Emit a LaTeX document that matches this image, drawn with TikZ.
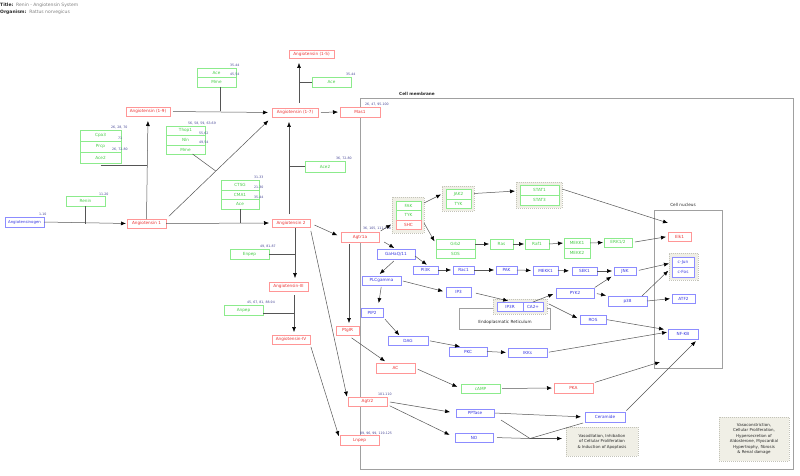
\documentclass[tikz,border=0pt]{standalone}
\usepackage{fontspec}
\setmainfont{DejaVu Sans}
\usetikzlibrary{arrows.meta,calc}
\definecolor{rbd}{RGB}{255,150,150}
\definecolor{rtx}{RGB}{235,50,50}
\definecolor{gbd}{RGB}{140,235,140}
\definecolor{gtx}{RGB}{70,205,70}
\definecolor{bbd}{RGB}{140,140,255}
\definecolor{btx}{RGB}{55,55,225}
\definecolor{lbl}{RGB}{70,70,150}
\definecolor{edgec}{RGB}{85,85,85}
\definecolor{grpf}{RGB}{240,239,230}
\definecolor{grpd}{RGB}{195,195,185}
\definecolor{cellc}{RGB}{160,160,160}
\definecolor{txd}{RGB}{40,40,40}
\newcommand\bx[7]{\node[#1, minimum width={(#5-#3)*1pt}, minimum height={(#6-#4)*1pt}] (#2) at ({(#3+#5)/2},{(#4+#6)/2}) {#7};}
\tikzset{
 box/.style={rectangle, inner sep=0pt, outer sep=0pt, fill=white, line width=0.6pt, font=\fontsize{4.2}{5}\selectfont},
 rn/.style={box, draw=rbd, text=rtx},
 gn/.style={box, draw=gbd, text=gtx},
 bn/.style={box, draw=bbd, text=btx},
 grp/.style={rectangle, inner sep=0pt, outer sep=0pt, fill=grpf, draw=grpd, dash pattern=on 1pt off 1pt, line width=0.6pt},
 cellbox/.style={rectangle, inner sep=0pt, outer sep=0pt, draw=cellc, line width=0.6pt},
 note/.style={rectangle, inner sep=0pt, outer sep=0pt, fill=grpf, draw=grpd, dash pattern=on 1pt off 1pt, line width=0.6pt, align=center, text=txd, font=\fontsize{4}{5.5}\selectfont},
 num/.style={font=\fontsize{3.2}{4}\selectfont, text=lbl, inner sep=0pt, anchor=west},
 arr/.style={draw=edgec, line width=0.5pt, -{Latex[length=5pt,width=4pt,color=black]}},
 ln/.style={draw=edgec, line width=0.5pt},
}
\begin{document}
\begin{tikzpicture}[x=1pt,y=-1pt]
\useasboundingbox (0,0) rectangle (800,476);
\fill[white] (0,0) rectangle (800,476);
% title
\node[anchor=west, inner sep=0pt, font=\fontsize{4.5}{5}\selectfont, text=txd] (title) at (0,5) {\textbf{Title:}\ \ {\color{gray}Renin - Angiotensin System}};
\node[anchor=west, inner sep=0pt, font=\fontsize{4.5}{5}\selectfont, text=txd] (organism) at (0,12.3) {\textbf{Organism:}\ \ {\color{gray}Rattus norvegicus}};
% compartments
\bx{cellbox}{membrane}{360}{98}{793}{469}{}
\node[font=\fontsize{4.2}{5}\selectfont\bfseries, text=txd, inner sep=0pt] (membranelbl) at (417,94) {Cell membrane};
\bx{cellbox}{nucleus}{654}{210}{722}{368}{}
\node[font=\fontsize{4.2}{5}\selectfont, text=txd, inner sep=0pt] (nucleuslbl) at (683,205) {Cell nucleus};
\bx{cellbox, fill=white}{er}{459}{308}{550}{329}{}
\node[font=\fontsize{4.2}{5}\selectfont, text=txd, inner sep=0pt] (erlbl) at (505,322) {Endoplasmatic Reticulum};
% groups
\bx{grp}{gFAK}{392}{197}{424}{233}{}
\bx{grp}{gJAK}{442}{186}{474}{211}{}
\bx{grp}{gSTAT}{516}{182}{562}{208}{}
\bx{grp}{gER}{493}{299}{547}{314}{}
\bx{grp}{gJun}{669}{253}{698}{280}{}
% notes
\bx{note}{vaso}{566}{427}{638}{456}{Vasodilation, Inhibation\\of Cellular Proliferation\\\& Induction of Apoptosis}
\bx{note}{vasoc}{719}{417}{789}{461}{Vasoconstriction,\\Cellular Proliferation,\\Hypersecretion of\\Aldosterone, Myocardial\\Hypertrophy, fibrosis\\\& Renal damage}
% red nodes
\bx{rn}{ang1}{127}{219}{166}{228}{Angiotensin 1}
\bx{rn}{ang19}{126}{107}{170}{116}{Angiotensin (1-9)}
\bx{rn}{ang15}{289}{50}{334}{58}{Angiotensin (1-5)}
\bx{rn}{ang17}{272}{108}{318}{117}{Angiotensin (1-7)}
\bx{rn}{mas1}{340}{107}{380}{117}{Mas1}
\bx{rn}{ang2}{272}{219}{310}{227}{Angiotensin 2}
\bx{rn}{agtr1a}{341}{232}{379}{242}{Agtr1a}
\bx{rn}{ang3}{269}{282}{308}{291}{Angiotensin-III}
\bx{rn}{ang4}{272}{335}{310}{344}{Angiotensin-IV}
\bx{rn}{ptgir}{336}{326}{359}{335}{PtgIR}
\bx{rn}{elk1}{668}{232}{691}{241}{Elk1}
\bx{rn}{ac}{376}{363}{415}{373}{AC}
\bx{rn}{agtr2}{348}{397}{387}{406}{Agtr2}
\bx{rn}{lnpep}{340}{435}{379}{445}{Lnpep}
\bx{rn}{pka}{554}{383}{593}{393}{PKA}
% green nodes
\bx{gn}{renin}{66}{196}{105}{206}{Renin}
\bx{gn}{cpa3}{80}{130}{121}{141}{Cpa3}
\bx{gn}{prcp}{80}{141}{121}{152}{Prcp}
\bx{gn}{ace2a}{80}{152}{121}{163}{Ace2}
\bx{gn}{thop1}{166}{126}{205}{135.5}{Thop1}
\bx{gn}{nln}{166}{135.5}{205}{145}{Nln}
\bx{gn}{mme1}{166}{145}{205}{154}{Mme}
\bx{gn}{aceA}{197}{68}{236}{77.5}{Ace}
\bx{gn}{mme2}{197}{77.5}{236}{87}{Mme}
\bx{gn}{aceB}{312}{77}{351}{87}{Ace}
\bx{gn}{ace2b}{305}{161}{345}{172}{Ace2}
\bx{gn}{ctsg}{221}{180}{259}{190}{CTSG}
\bx{gn}{cma1}{221}{190}{259}{199.5}{CMA1}
\bx{gn}{aceC}{221}{199.5}{259}{209}{Ace}
\bx{gn}{enpep}{230}{249}{269}{259}{Enpep}
\bx{gn}{anpep}{224}{305}{263}{315}{Anpep}
\bx{gn}{fak}{396}{201}{421}{210}{FAK}
\bx{gn}{tyk1}{396}{210}{421}{220}{TYK}
\bx{rn}{shc}{396}{220}{421}{229}{SHC}
\bx{gn}{jak2}{446}{189}{471}{199}{JAK2}
\bx{gn}{tyk2}{446}{199}{471}{208}{TYK}
\bx{gn}{stat1}{520}{185}{559}{195}{STAT1}
\bx{gn}{stat3}{520}{195}{559}{205}{STAT3}
\bx{gn}{grb2}{436}{239}{475}{249}{Grb2}
\bx{gn}{sos}{436}{249}{475}{258}{SOS}
\bx{gn}{ras}{490}{239}{513}{249}{Ras}
\bx{gn}{raf1}{525}{239}{549}{249}{Raf1}
\bx{gn}{mek1}{564}{238}{590}{248}{MEKK1}
\bx{gn}{mek2}{564}{248}{590}{258}{MEKK2}
\bx{gn}{erk}{604}{238}{632}{247}{ERK1/2}
\bx{gn}{camp}{461}{384}{500}{393}{cAMP}
% blue nodes
\bx{bn, font=\fontsize{3.9}{5}\selectfont}{agen}{5}{217}{44}{227}{Angiotensinogen}
\bx{bn}{gaq}{377}{249}{415}{259}{GaHaQ/11}
\bx{bn}{plcg}{362}{276}{401}{285}{PLCgamma}
\bx{bn}{pip2}{361}{308}{383}{317}{PIP2}
\bx{bn}{dag}{388}{336}{428}{345}{DAG}
\bx{bn}{pkc}{449}{347}{487}{356}{PKC}
\bx{bn}{ikks}{508}{348}{547}{357}{IKKs}
\bx{bn}{pi3k}{413}{266}{438}{274}{PI3K}
\bx{bn}{rac1}{453}{266}{474}{274}{Rac1}
\bx{bn}{pak}{496}{266}{517}{274}{PAK}
\bx{bn}{mekk1}{533}{266}{558}{275}{MEKK1}
\bx{bn}{sek1}{572}{267}{597}{275}{SEK1}
\bx{bn}{jnk}{614}{267}{636}{275}{JNK}
\bx{bn}{ip3}{446}{287}{471}{297}{IP3}
\bx{bn}{ip3r}{497}{302}{523}{311}{IP3R}
\bx{bn}{ca2}{523}{302}{543}{311}{CA2+}
\bx{bn}{pyk2}{556}{288}{594}{298}{PYK2}
\bx{bn}{p38}{608}{296}{647}{306}{p38}
\bx{bn}{atf2}{672}{294}{695}{303}{ATF2}
\bx{bn}{ros}{580}{315}{606}{324}{ROS}
\bx{bn}{nfkb}{668}{329}{698}{339}{NF-KB}
\bx{bn}{cjun}{672}{257}{694}{267}{c-Jun}
\bx{bn}{cfos}{672}{267}{694}{277}{c-Fos}
\bx{bn}{ceramide}{585}{412}{625}{422}{Ceramide}
\bx{bn}{pptase}{456}{409}{494}{417}{PPTase}
\bx{bn}{no}{455}{433}{493}{442}{NO}
% reference numbers
\node[num] (n1) at (39,214) {1-10};
\node[num] (n2) at (99,194) {11-20};
\node[num] (n3) at (111,127) {26, 28, 70};
\node[num] (n4) at (118,138) {71};
\node[num] (n5) at (112,149) {26, 72-80};
\node[num] (n6) at (188,123) {56, 58, 59, 63-69};
\node[num] (n7) at (199,133) {55,62};
\node[num] (n8) at (199,142) {49,54};
\node[num] (n9) at (230,65) {35-44};
\node[num] (n10) at (230,75) {45,54};
\node[num] (n11) at (346,74) {35-44};
\node[num] (n12) at (365,104) {26, 47, 95-100};
\node[num] (n13) at (336,158) {36, 72-80};
\node[num] (n14) at (254,177) {31-33};
\node[num] (n15) at (254,187) {21-30};
\node[num] (n16) at (254,197) {35-44};
\node[num] (n17) at (363,228) {36, 105, 111-118};
\node[num] (n18) at (260,246) {49, 81-87};
\node[num] (n19) at (247,302) {45, 67, 81, 88-94};
\node[num] (n20) at (378,394) {101-110};
\node[num] (n21) at (360,433) {89, 96, 99, 119-125};
% helper coordinates
\coordinate (nucA) at (668,223);
\coordinate (nucB) at (660,362);
\coordinate (junc) at (530,438.5);
\coordinate (v6) at ([xshift=-2pt]ang2.north);
\coordinate (v7) at ([xshift=4pt]ang17.north);
\coordinate (v10) at ([xshift=4pt]ang2.south);
\coordinate (v11) at ([xshift=5.5pt]ang3.south);
% connectors
\draw[arr, shorten >=1pt] (agen.east) -- (ang1.west);
\draw[ln] (renin.south) -- (renin.south |- ang1.west);
\draw[arr, shorten >=5pt] (ang1.north) -- (ang19.south);
\draw[ln] ([yshift=-2pt]ace2a.south) -- ([yshift=-2pt]ace2a.south -| ang1.north);
\draw[arr, shorten <=3pt, shorten >=4pt] (ang19.east) -- (ang17.west);
\draw[ln] ([xshift=4pt]mme2.south) -- ([xshift=4pt]mme2.south |- ang19.east);
\draw[arr, shorten <=4pt, shorten >=5pt] (ang1.north east) -- (ang17.south west);
\draw[ln] ([xshift=7pt]mme1.south) -- ($(ang1.north east)!0.47!(ang17.south west)$);
\draw[arr, shorten >=3pt] (ang1.east) -- (ang2.west);
\draw[ln] (aceC.south) -- (aceC.south |- ang2.west);
\draw[arr, shorten <=5pt, shorten >=5pt] (v6) -- ([xshift=-6pt]ang17.south);
\draw[ln] (ace2b.west) -- (ace2b.west -| v6);
\draw[arr, shorten <=5pt, shorten >=5pt] (v7) -- ([xshift=-12.5pt]ang15.south);
\draw[ln] (aceB.west) -- (aceB.west -| v7);
\draw[arr, shorten <=3pt, shorten >=2pt] (ang17.east) -- (mas1.west);
\draw[arr, shorten <=5pt, shorten >=4pt] (ang2.east) -- (agtr1a.west);
\draw[arr, shorten <=1pt, shorten >=4pt] (v10) -- ([xshift=6.5pt]ang3.north);
\draw[ln] (enpep.east) -- (enpep.east -| v10);
\draw[arr, shorten <=4pt, shorten >=3pt] (v11) -- ([xshift=3pt]ang4.north);
\draw[ln] ([yshift=-3pt]anpep.east) -- ([yshift=-3pt]anpep.east -| v11);
\draw[arr, shorten <=4pt, shorten >=5pt] (ang2.south east) -- (agtr2.west);
\draw[arr, shorten <=3pt, shorten >=4pt] (ang4.south east) -- (lnpep.west);
\draw[arr, shorten <=2pt, shorten >=3pt] ([xshift=-11pt]agtr1a.south) -- ([xshift=1.5pt]ptgir.north);
\draw[arr, shorten <=2pt, shorten >=1pt] (agtr1a.north east) -- ([yshift=-9pt]gFAK.west);
\draw[arr, shorten <=6pt, shorten >=2pt] ([yshift=-2pt]agtr1a.east) -- (gaq.north);
\draw[arr, shorten >=1pt] ([yshift=-6pt]gFAK.north east) -- ([yshift=4.5pt]gJAK.west);
\draw[arr, shorten >=3pt] ([yshift=10pt]gFAK.south east) -- (grb2.west);
\draw[arr, shorten >=1pt] ([yshift=5pt]gJAK.east) -- ([yshift=4pt]gSTAT.west);
\draw[arr] ([yshift=6pt]gSTAT.east) -- (nucA);
\draw[arr, shorten >=1pt] (grb2.east) -- (ras.west);
\draw[arr, shorten >=1pt] (ras.east) -- (raf1.west);
\draw[arr, shorten >=1pt] (raf1.east) -- (mek1.west);
\draw[arr, shorten >=1pt] (mek1.east) -- (erk.west);
\draw[arr, shorten <=3pt, shorten >=2pt] (erk.east) -- (elk1.west);
\draw[arr, shorten <=3pt, shorten >=3pt] (gaq.south) -- ([xshift=-4pt]plcg.north);
\draw[arr, shorten >=2pt] ([yshift=3pt]gaq.south east) -- ([xshift=3pt]pi3k.north);
\draw[arr, shorten >=2pt] (pi3k.east) -- (rac1.west);
\draw[arr, shorten >=2pt] (rac1.east) -- (pak.west);
\draw[arr, shorten >=2pt] (pak.east) -- (mekk1.west);
\draw[arr, shorten >=3pt] (mekk1.east) -- (sek1.west);
\draw[arr, shorten >=2pt] (sek1.east) -- (jnk.west);
\draw[arr, shorten <=3pt] (jnk.east) -- ([yshift=3pt]gJun.west);
\draw[arr, shorten <=1pt, shorten >=3pt] (pyk2.north east) -- (jnk.south west);
\draw[arr, shorten <=3pt, shorten >=2pt] (pyk2.east) -- (p38.north west);
\draw[arr, shorten >=1pt] ([xshift=-5pt]p38.north east) -- ([yshift=10pt]gJun.south west);
\draw[arr, shorten >=2pt] (p38.east) -- (atf2.west);
\draw[arr, shorten <=1pt, shorten >=4pt] (ros.east) -- ([yshift=4pt]nfkb.west);
\draw[arr, shorten <=2pt, shorten >=1pt] (ikks.east) -- ([yshift=2pt]nfkb.west);
\draw[arr, shorten <=2pt] (pka.north east) -- (nucB);
\draw[arr, shorten <=2pt, shorten >=3pt] (ceramide.north east) -- (nfkb.south east);
\draw[arr, shorten <=2pt, shorten >=5pt] (plcg.south) -- ([xshift=6pt]pip2.north);
\draw[arr, shorten <=2pt, shorten >=3pt] (plcg.east) -- (ip3.west);
\draw[arr, shorten <=5pt, shorten >=5pt] (ip3.east) -- ([xshift=3pt]ip3r.north);
\draw[arr, shorten >=3pt] (ca2.north) -- (pyk2.west);
\draw[arr, shorten <=2pt, shorten >=3pt] ([yshift=-4pt]gER.north east) -- (ros.west);
\draw[arr, shorten <=3pt, shorten >=1pt] (pip2.south east) -- ([xshift=-8pt]dag.north);
\draw[arr, shorten <=2pt, shorten >=2pt] (dag.east) -- ([xshift=-6pt]pkc.north);
\draw[arr, shorten >=2pt] (pkc.east) -- (ikks.west);
\draw[arr, shorten <=5pt, shorten >=3pt] (ptgir.south) -- ([xshift=-8pt]ac.north);
\draw[arr, shorten <=3pt, shorten >=4pt] (ac.east) -- (camp.west);
\draw[arr, shorten <=2pt, shorten >=2pt] (camp.east) -- (pka.west);
\draw[arr, shorten <=3pt, shorten >=6pt] (agtr2.east) -- (pptase.west);
\draw[arr, shorten <=3pt, shorten >=6pt] ([yshift=-3pt]agtr2.east) -- (no.west);
\draw[arr, shorten <=1pt, shorten >=4pt] (pptase.east) -- (ceramide.west);
\draw[ln] ([xshift=7pt,yshift=-3pt]pptase.south east) -- (junc);
\draw[ln, shorten <=4pt] (no.east) -- (junc);
\draw[ln] (junc) -- ([shift={(-2pt,-1pt)}]ceramide.south west);
\draw[arr, shorten >=4pt] (junc) -- (vaso.west |- junc);
\end{tikzpicture}
\end{document}
